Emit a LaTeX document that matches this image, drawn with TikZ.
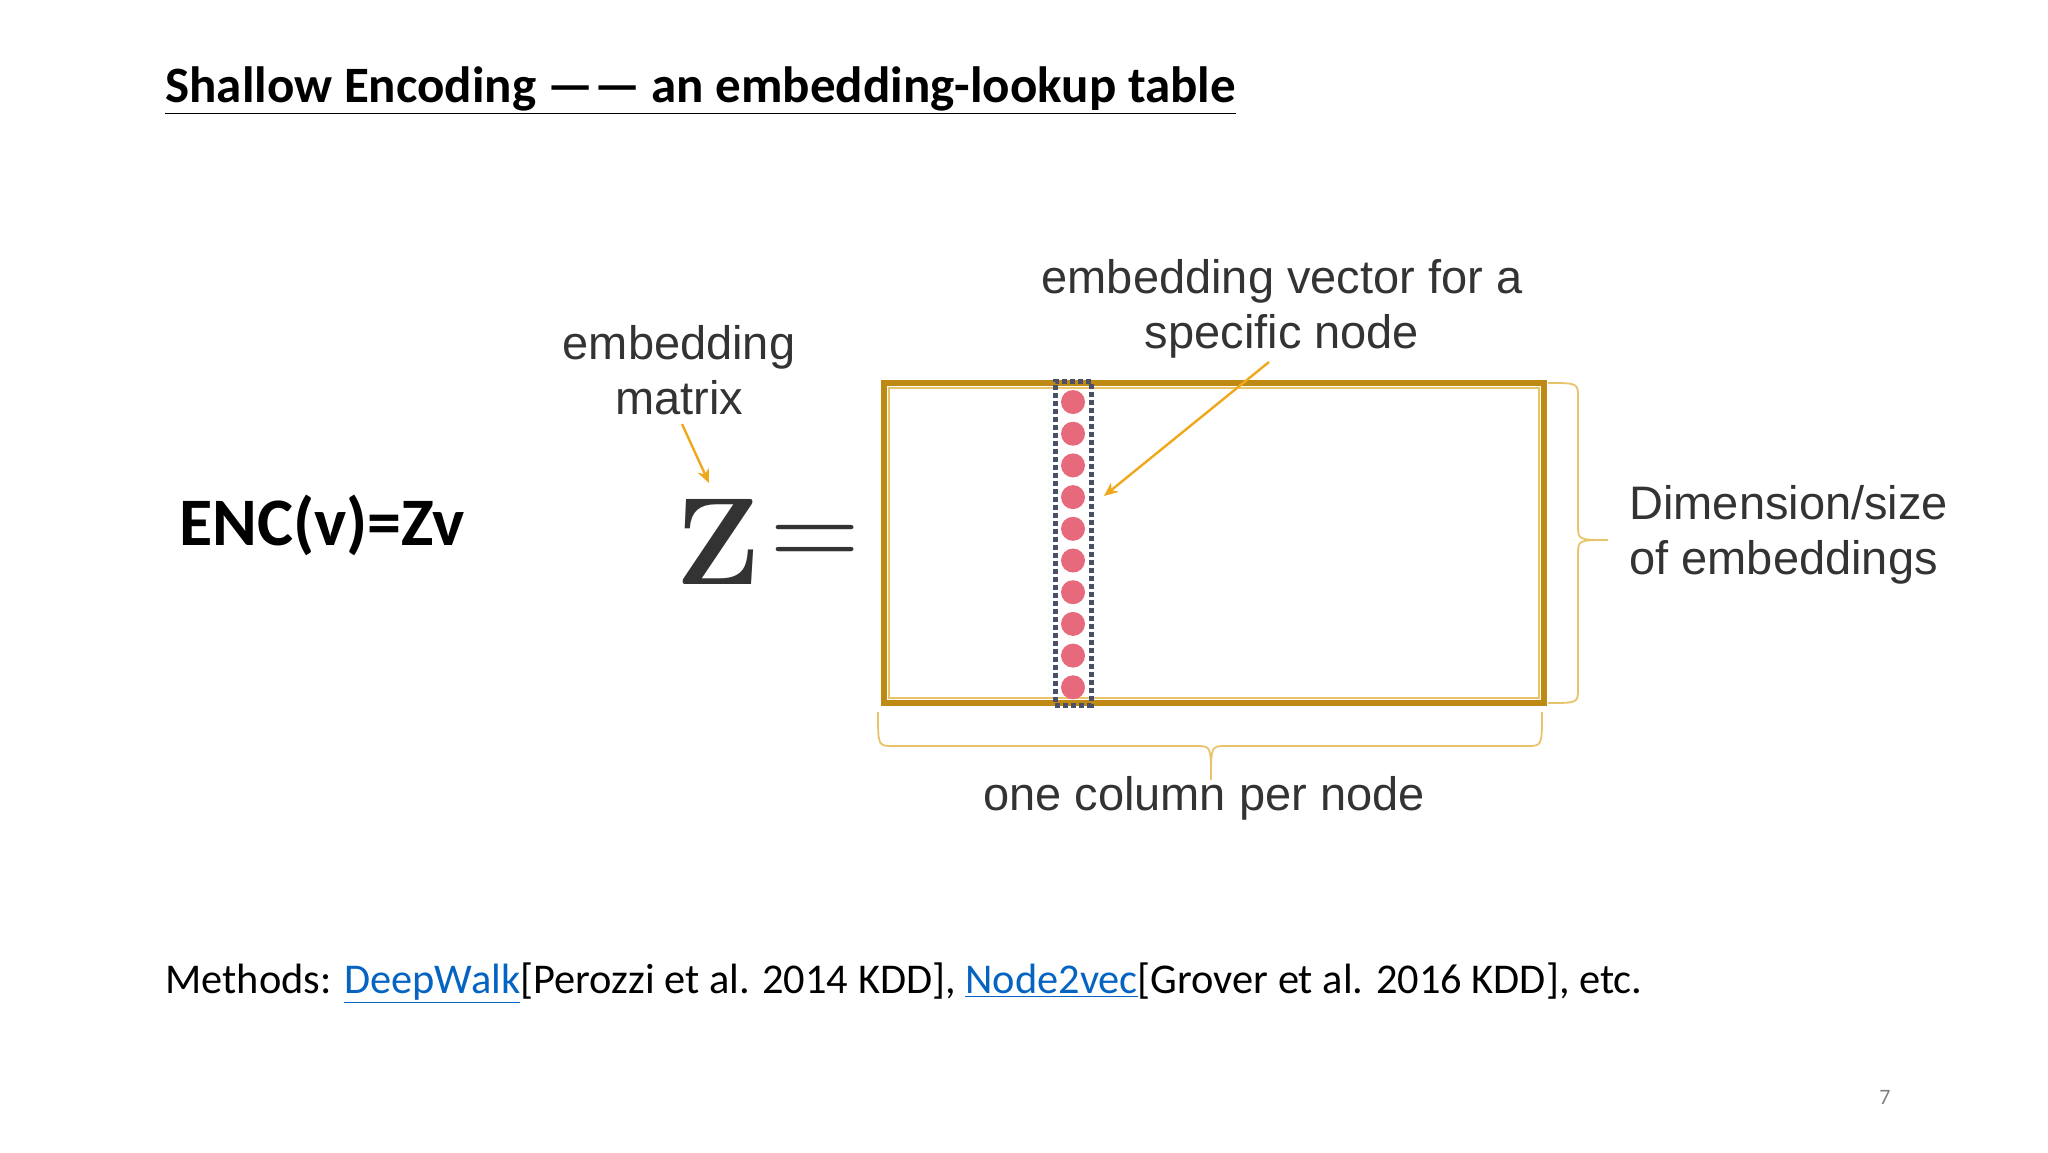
\documentclass[tikz,border=0pt]{standalone}
\usepackage{fontspec}
\setmainfont{Carlito}
\newfontfamily\helv{Liberation Sans}
\newfontfamily\lmr{Latin Modern Roman}
\usetikzlibrary{arrows.meta}
\definecolor{gold}{HTML}{BE8A14}
\definecolor{lgold}{HTML}{E9C36A}
\definecolor{arr}{HTML}{EFA81C}
\definecolor{dotc}{HTML}{E66A7C}
\definecolor{dashc}{HTML}{4A5068}
\definecolor{link}{HTML}{0563C1}
\definecolor{txt}{HTML}{333333}
\tikzset{lbl/.style={font=\helv\fontsize{23.5}{27.5}\selectfont, text=txt, align=center, inner sep=0pt},
 arrw/.style={draw=arr, line width=1.2pt, -{Stealth[length=7pt,width=6pt]}},
 brace/.style={draw=lgold, line width=0.9pt},
 dot/.style={circle, fill=dotc, minimum size=12pt, inner sep=0pt}}
\begin{document}
\begin{tikzpicture}[x=0.5pt,y=-0.5pt]
\useasboundingbox (0,0) rectangle (2048,1152);
\node[anchor=base west, inner sep=0pt, font=\bfseries\fontsize{25.5}{30}\selectfont] (title) at (165,102) {\underline{Shallow Encoding ——\ an embedding-lookup table}};
\node[anchor=base west, inner sep=0pt, font=\bfseries\fontsize{34}{38}\selectfont] (enc) at (179,545) {ENC(v)=Zv};
\node[anchor=center, inner sep=0pt, font=\lmr\bfseries\fontsize{62}{66}\selectfont, text=txt] (Z) at (718,542) {Z};
\node[anchor=center, inner sep=0pt, font=\lmr\fontsize{62}{66}\selectfont, text=txt] (eq) at (815,547) {=};
% matrix
\draw[gold, line width=3pt] (884,383) rectangle (1544,703);
\draw[lgold, line width=0.8pt] (889,388) rectangle (1539,698);
\node[draw=dashc, dashed, dash pattern=on 2.5pt off 1.5pt, line width=2.5pt, minimum width=18pt, minimum height=162pt, inner sep=0pt] (col) at (1073,543) {};
\foreach \i in {0,...,9} { \node[dot] (d\i) at (1073,{402+\i*31.7}) {}; }
% labels
\node[lbl] (em) at (679,370) {embedding\\matrix};
\node[lbl] (ev) at (1282,309) {embedding vector for a\\specific node};
\node[lbl, align=left, anchor=west] (dim) at (1629,535) {Dimension/size\\of embeddings};
\node[lbl] (one) at (1204,798) {one column per node};
\coordinate (a1) at (709,483);
\coordinate (a2) at (1104,496);
\draw[arrw] (682,424) -- (a1);
\draw[arrw] (1269,362) -- (a2);
% braces
\draw[brace] (1548,383) .. controls (1578,383) .. (1578,398) -- (1578,525) .. controls (1578,540) .. (1608,540) .. controls (1578,540) .. (1578,555) -- (1578,688) .. controls (1578,703) .. (1548,703);
\draw[brace] (878,712) .. controls (878,746) .. (893,746) -- (1196,746) .. controls (1211,746) .. (1211,780) .. controls (1211,746) .. (1226,746) -- (1527,746) .. controls (1542,746) .. (1542,712);
\node[anchor=base west, inner sep=0pt, font=\fontsize{21.2}{25}\selectfont] (meth) at (165,993) {Methods: \textcolor{link}{\underline{DeepWalk}}[Perozzi et al. 2014 KDD], \textcolor{link}{\underline{Node2vec}}[Grover et al. 2016 KDD], etc.};
\node[anchor=center, inner sep=0pt, font=\fontsize{11}{13}\selectfont, text=gray] (pg) at (1885,1097) {7};
\end{tikzpicture}
\end{document}
